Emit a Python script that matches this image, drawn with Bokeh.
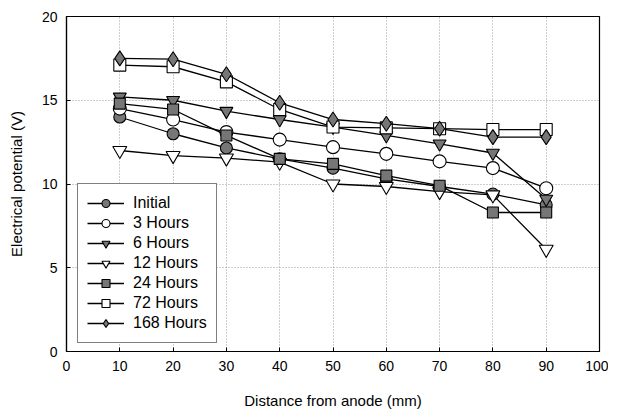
from bokeh.plotting import figure
from bokeh.models import Legend, LegendItem, FixedTicker, Range1d
from bokeh.embed import file_html
from bokeh.resources import INLINE

distance = [10, 20, 30, 40, 50, 60, 70, 80, 90]
initial = [14.0, 13.0, 12.15, 11.5, 10.95, 10.3, 9.85, 9.4, 8.75]
h3 = [14.5, 13.85, 13.1, 12.65, 12.2, 11.8, 11.35, 10.95, 9.75]
h6 = [15.2, 15.0, 14.35, 13.85, 13.4, 12.9, 12.4, 11.85, 9.1]
h12 = [12.0, 11.7, 11.55, 11.3, 10.0, 9.85, 9.55, 9.35, 6.1]
h24 = [14.8, 14.45, 12.9, 11.5, 11.2, 10.5, 9.9, 8.3, 8.3]
h72 = [17.1, 17.0, 16.1, 14.45, 13.4, 13.35, 13.3, 13.25, 13.25]
h168 = [17.5, 17.45, 16.55, 14.85, 13.85, 13.6, 13.3, 12.8, 12.8]

labels = ["Initial", "3 Hours", "6 Hours", "12 Hours", "24 Hours", "72 Hours", "168 Hours"]
x_ticks = [0, 10, 20, 30, 40, 50, 60, 70, 80, 90, 100]
y_ticks = [0, 5, 10, 15, 20]

GREY = "#767676"
series = [
    (initial, "circle", GREY, 12),
    (h3, "circle", "white", 13),
    (h6, "inverted_triangle", GREY, 13),
    (h12, "inverted_triangle", "white", 14),
    (h24, "square", GREY, 11),
    (h72, "square", "white", 12),
    (h168, "diamond", GREY, 15),
]

FONT = "Liberation Sans"

p = figure(frame_width=533, frame_height=335, output_backend="svg", toolbar_location=None,
           x_range=Range1d(0, 100), y_range=Range1d(0, 20),
           min_border_left=66, min_border_right=9, min_border_top=16, min_border_bottom=40)
p.background_fill_color = "white"
p.border_fill_color = "white"
p.outline_line_color = "black"
p.outline_line_width = 1.2

p.xaxis.ticker = FixedTicker(ticks=x_ticks)
p.yaxis.ticker = FixedTicker(ticks=y_ticks)
for ax in (p.xaxis[0], p.yaxis[0]):
    ax.major_tick_in = 4
    ax.major_tick_out = 0
    ax.minor_tick_in = 0
    ax.minor_tick_out = 0
    ax.axis_line_color = "black"
    ax.axis_line_width = 1.2
    ax.major_label_text_font = FONT
    ax.major_label_text_font_size = "14px"
    ax.major_label_text_color = "black"
    ax.axis_label_text_font = FONT
    ax.axis_label_text_font_size = "15px"
    ax.axis_label_text_font_style = "normal"
    ax.axis_label_text_color = "black"
p.xaxis.axis_label = "Distance from anode (mm)"
p.yaxis.axis_label = "Electrical potential (V)"
p.xaxis.major_label_standoff = 9
p.xaxis.axis_label_standoff = 18
p.yaxis.major_label_standoff = 9
p.yaxis.axis_label_standoff = 14

for g in (p.xgrid[0], p.ygrid[0]):
    g.grid_line_color = "#9a9a9a"
    g.grid_line_dash = "1 2"
    g.grid_line_width = 1

items = []
for (vals, marker, fill, size), lab in zip(series, labels):
    ln = p.line(distance, vals, line_color="black", line_width=1.3)
    sc = p.scatter(distance, vals, marker=marker, size=size, fill_color=fill,
                   line_color="black", line_width=1.1)
    items.append(LegendItem(label=lab, renderers=[ln, sc]))

legend = Legend(items=items, location=(11, 8))
legend.label_text_font = FONT
legend.label_text_font_size = "16px"
legend.label_text_color = "black"
legend.label_height = 20
legend.glyph_height = 20
legend.glyph_width = 37
legend.label_standoff = 9
legend.spacing = 0
legend.padding = 9
legend.margin = 0
legend.border_line_color = "black"
legend.border_line_width = 1.2
legend.background_fill_alpha = 1
p.add_layout(legend, "center")

open("out.html", "w").write(file_html(p, INLINE))
